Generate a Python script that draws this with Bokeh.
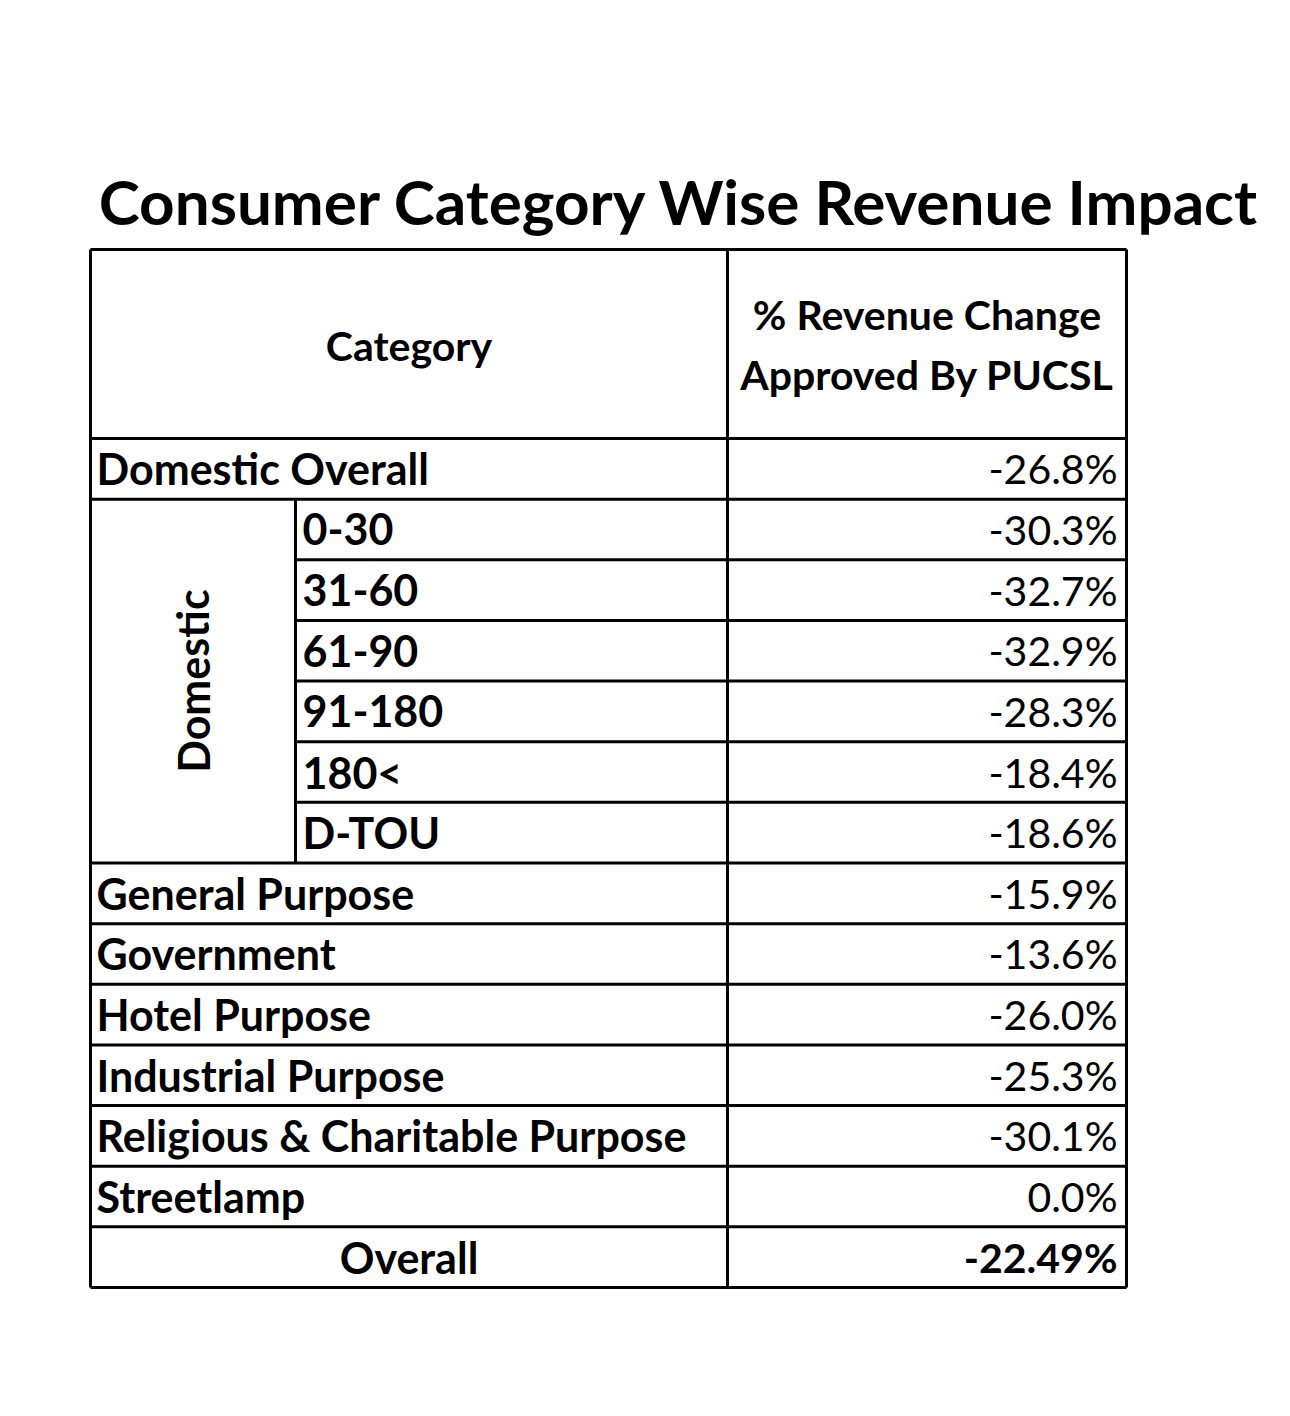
from bokeh.plotting import figure
from bokeh.models import Range1d, ColumnDataSource
from bokeh.core.properties import value
from bokeh.embed import file_html
from bokeh.resources import INLINE

# ---- data ----
title = "Consumer Category Wise Revenue Impact"
header_category = "Category"
header_value = ["% Revenue Change", "Approved By PUCSL"]
categories = ["Domestic Overall", "0-30", "31-60", "61-90", "91-180", "180<", "D-TOU",
              "General Purpose", "Government", "Hotel Purpose", "Industrial Purpose",
              "Religious & Charitable Purpose", "Streetlamp"]
is_sub = [False, True, True, True, True, True, True, False, False, False, False, False, False]
values = [-26.8, -30.3, -32.7, -32.9, -28.3, -18.4, -18.6, -15.9, -13.6, -26.0, -25.3, -30.1, 0.0]
group_label = "Domestic"
overall_label = "Overall"
overall_value = -22.49

FONT = "Lato"
LAB = "43px"
HEAD = "41px"
VAL = "41px"

p = figure(width=1274, height=1400, output_backend="svg", toolbar_location=None,
           x_range=Range1d(0, 1274), y_range=Range1d(1400, 0),
           min_border=0, outline_line_color=None)
p.axis.visible = False
p.grid.visible = False
p.background_fill_color = "white"

# layout
x0, xm, xs, x1 = 90, 727, 295, 1126
y_top, y_head = 249, 438
n_rows = len(categories) + 1
y_bot = 1287
rh = (y_bot - y_head) / n_rows
row_top = [y_head + i * rh for i in range(n_rows)]
row_mid = [t + rh / 2 for t in row_top]
sub_all = is_sub + [False]

# title
p.text(x=[679], y=[200], text=[title], text_font=value(FONT),
       text_font_style="bold", text_font_size="62px", text_align="center",
       text_baseline="middle", text_color="black")

# grid lines
sx0, sy0, sx1, sy1 = [], [], [], []
def seg(a, b, c, d):
    sx0.append(a); sy0.append(b); sx1.append(c); sy1.append(d)

seg(x0, y_top, x1, y_top)
seg(x0, y_head, x1, y_head)
seg(x0, y_bot, x1, y_bot)
seg(x0, y_top, x0, y_bot)
seg(x1, y_top, x1, y_bot)
seg(xm, y_top, xm, y_bot)
sub_idx = [i for i, s in enumerate(is_sub) if s]
for i in range(1, n_rows):
    y = row_top[i]
    if sub_all[i] and sub_all[i - 1]:
        seg(xs, y, x1, y)
    else:
        seg(x0, y, x1, y)
seg(xs, row_top[sub_idx[0]], xs, row_top[sub_idx[-1] + 1])
p.segment(x0=sx0, y0=sy0, x1=sx1, y1=sy1, line_color="black", line_width=3)

# header text
p.text(x=[(x0 + xm) / 2], y=[345], text=[header_category], text_font=value(FONT),
       text_font_style="bold", text_font_size=HEAD, text_align="center", text_baseline="middle")
p.text(x=[(xm + x1) / 2] * 2, y=[314, 374], text=header_value, text_font=value(FONT),
       text_font_style="bold", text_font_size=HEAD, text_align="center", text_baseline="middle")

# row labels
lab_x = [xs + 7 if s else x0 + 6 for s in is_sub]
src = ColumnDataSource(dict(x=lab_x, y=row_mid[:len(categories)], t=categories))
p.text(x="x", y="y", text="t", source=src, text_font=value(FONT), text_font_style="bold",
       text_font_size=LAB, text_align="left", text_baseline="middle")

# values
vtxt = [f"{v:.1f}%" for v in values]
vsrc = ColumnDataSource(dict(x=[x1 - 9] * len(values), y=row_mid[:len(values)], t=vtxt))
p.text(x="x", y="y", text="t", source=vsrc, text_font=value(FONT),
       text_font_size=VAL, text_align="right", text_baseline="middle")

# group label rotated
gmid = (row_top[sub_idx[0]] + row_top[sub_idx[-1] + 1]) / 2
p.text(x=[(x0 + xs) / 2], y=[gmid], text=[group_label], angle=[1.5708],
       text_font=value(FONT), text_font_style="bold", text_font_size=LAB,
       text_align="center", text_baseline="middle")

# overall row
p.text(x=[(x0 + xm) / 2], y=[row_mid[-1]], text=[overall_label], text_font=value(FONT),
       text_font_style="bold", text_font_size=LAB, text_align="center", text_baseline="middle")
p.text(x=[x1 - 9], y=[row_mid[-1]], text=[f"{overall_value:.2f}%"], text_font=value(FONT),
       text_font_style="bold", text_font_size=VAL, text_align="right", text_baseline="middle")

open("out.html", "w").write(file_html(p, INLINE))
